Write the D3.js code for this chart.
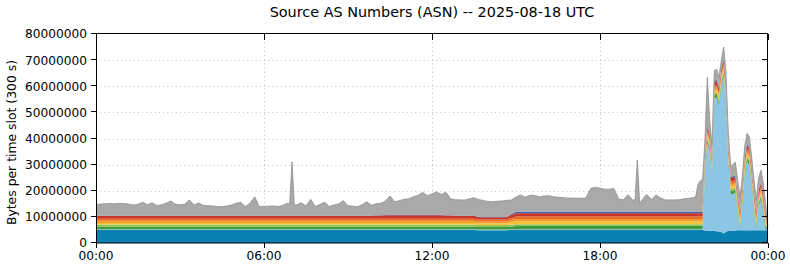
<!DOCTYPE html>
<html>
<head>
<meta charset="utf-8">
<script src="https://cdn.jsdelivr.net/npm/d3@7/dist/d3.min.js"></script>
<style>
  body { margin: 0; background: #fff; }
  svg { display: block; font-family: "DejaVu Sans", sans-serif; }
</style>
</head>
<body>
<svg id="chart" width="790" height="267"></svg>
<script>
// time slots, minutes after 00:00 UTC (MB per slot)
const slots = [
  0,10,20,30,40,50,60,70,80,90,
  100,110,120,130,140,150,160,170,180,190,
  200,210,220,230,240,250,260,270,280,290,
  300,310,320,330,340,350,360,370,380,390,
  400,410,415,420,425,430,440,450,460,470,
  480,490,500,510,520,530,540,550,560,570,
  580,590,600,610,620,630,640,650,660,670,
  680,690,700,710,720,730,740,750,760,770,
  780,790,800,810,820,830,840,850,860,870,
  880,890,900,910,920,930,940,950,960,970,
  980,990,1000,1010,1020,1030,1040,1050,1060,1070,
  1080,1090,1100,1110,1120,1130,1140,1150,1155,1160,
  1165,1170,1180,1190,1200,1210,1220,1230,1240,1250,
  1260,1265,1270,1275,1280,1285,1290,1295,1300,1305,
  1310,1315,1320,1325,1330,1335,1340,1345,1350,1355,
  1360,1365,1370,1375,1380,1385,1390,1395,1400,1405,
  1410,1415,1420,1425,1430,1435,1440
];

// stacked from the bottom up, millions of bytes
const asDarkBlue = [
  5.0,5.0,5.0,5.0,5.0,5.0,5.0,5.0,5.0,5.0,
  5.0,5.0,5.0,5.0,5.0,5.0,5.0,5.0,5.0,5.0,
  5.0,5.0,5.0,5.0,5.0,5.0,5.0,5.0,5.0,5.0,
  5.0,5.0,5.0,5.0,5.0,5.0,5.0,5.0,5.0,5.0,
  5.0,5.0,5.0,5.0,5.0,5.0,5.0,5.0,5.0,5.0,
  5.0,5.0,5.0,5.0,5.0,5.0,5.0,5.0,5.0,5.0,
  5.0,5.0,5.0,5.0,5.0,5.0,5.0,5.0,5.0,5.0,
  5.0,5.0,5.0,5.0,5.0,5.0,5.0,5.0,5.0,5.0,
  5.0,5.0,5.0,5.0,4.9,4.9,4.9,4.9,4.9,4.9,
  4.9,5.0,5.0,5.0,5.0,5.0,5.0,5.0,5.0,5.0,
  5.0,5.0,5.0,5.0,5.0,5.0,5.0,5.0,5.0,5.0,
  5.0,5.0,5.0,5.0,5.0,5.0,5.0,5.0,5.0,5.0,
  5.0,5.0,5.0,5.0,5.0,5.0,5.0,5.0,5.0,5.0,
  5.0,5.0,5.0,5.0,5.0,5.0,5.0,5.0,5.0,4.8,
  4.8,4.7,4.7,4.6,4.5,4.4,4.2,3.6,4.3,4.7,
  4.8,4.8,4.8,4.9,4.9,4.9,4.9,4.9,4.9,4.9,
  4.9,4.9,4.9,4.9,4.9,4.9,5.0
];
const asLightBlue = [
  0.3,0.3,0.3,0.3,0.3,0.3,0.3,0.3,0.3,0.3,
  0.3,0.3,0.3,0.3,0.3,0.3,0.3,0.3,0.3,0.3,
  0.3,0.3,0.3,0.3,0.3,0.3,0.3,0.3,0.3,0.3,
  0.3,0.3,0.3,0.3,0.3,0.3,0.3,0.3,0.3,0.3,
  0.3,0.3,0.3,0.3,0.3,0.3,0.3,0.3,0.3,0.3,
  0.3,0.3,0.3,0.3,0.3,0.3,0.3,0.3,0.3,0.3,
  0.3,0.3,0.3,0.3,0.3,0.3,0.3,0.3,0.3,0.3,
  0.3,0.3,0.3,0.3,0.3,0.3,0.3,0.3,0.3,0.3,
  0.3,0.3,0.3,0.3,0.3,0.3,0.3,0.3,0.3,0.3,
  0.3,0.3,0.3,0.3,0.3,0.3,0.3,0.3,0.3,0.3,
  0.3,0.3,0.3,0.3,0.3,0.3,0.3,0.3,0.3,0.3,
  0.3,0.3,0.3,0.3,0.3,0.3,0.3,0.3,0.3,0.3,
  0.3,0.3,0.3,0.3,0.3,0.3,0.3,0.3,0.3,0.3,
  0.3,0.3,0.3,0.3,0.3,0.3,0.3,0.3,0.3,22.0,
  33.5,30.6,21.1,50.7,51.3,48.4,56.1,60.2,50.0,26.1,
  14.0,14.0,14.5,7.4,0.6,9.3,21.4,26.4,25.1,17.4,
  7.9,0.4,8.9,11.8,6.8,0.4,0.3
];
const asGreen = [
  0.9,0.9,0.9,0.9,0.9,0.9,0.9,0.9,0.9,0.9,
  0.9,0.9,0.9,0.9,0.9,0.9,0.9,0.9,0.9,0.9,
  0.9,0.9,0.9,0.9,0.9,0.9,0.9,0.9,0.9,0.9,
  0.9,0.9,0.9,0.9,0.9,0.9,0.9,0.9,0.9,0.9,
  0.9,0.9,0.9,0.9,0.9,0.9,0.9,0.9,0.9,0.9,
  0.9,0.9,0.9,0.9,0.9,0.9,0.9,0.9,0.9,0.9,
  0.9,0.9,0.9,0.9,0.9,0.9,0.9,0.9,0.9,0.9,
  0.9,0.9,0.9,0.9,0.9,0.9,0.9,0.9,0.9,0.9,
  0.9,0.9,0.9,0.9,0.9,0.9,0.9,0.9,0.9,0.9,
  0.9,1.0,1.2,1.2,1.2,1.2,1.2,1.2,1.2,1.2,
  1.2,1.2,1.2,1.2,1.2,1.2,1.2,1.2,1.2,1.2,
  1.2,1.2,1.2,1.2,1.2,1.2,1.2,1.2,1.2,1.2,
  1.2,1.2,1.2,1.2,1.2,1.2,1.2,1.2,1.2,1.2,
  1.2,1.2,1.2,1.2,1.2,1.2,1.2,1.2,1.2,1.2,
  1.2,1.2,1.2,1.2,1.2,1.2,1.2,1.2,1.2,1.2,
  1.2,1.2,1.2,1.2,1.2,1.2,1.2,1.2,1.2,1.2,
  1.2,1.2,1.2,1.2,1.2,1.2,0.1
];
const asLightGreen = [
  0.9,0.9,0.9,0.9,0.9,0.9,0.9,0.9,0.9,0.9,
  0.9,0.9,0.9,0.9,0.9,0.9,0.9,0.9,0.9,0.9,
  0.9,0.9,0.9,0.9,0.9,0.9,0.9,0.9,0.9,0.9,
  0.9,0.9,0.9,0.9,0.9,0.9,0.9,0.9,0.9,0.9,
  0.9,0.9,0.9,0.9,0.9,0.9,0.9,0.9,0.9,0.9,
  0.9,0.9,0.9,0.9,0.9,0.9,0.9,0.9,0.9,0.9,
  0.9,0.9,0.9,0.9,0.9,0.9,0.9,0.9,0.9,0.9,
  0.9,0.9,0.9,0.9,0.9,0.9,0.9,0.9,0.9,0.9,
  0.9,0.9,0.9,0.9,0.8,0.8,0.8,0.8,0.8,0.8,
  0.8,0.8,0.7,0.7,0.7,0.7,0.7,0.7,0.7,0.7,
  0.7,0.7,0.7,0.7,0.7,0.7,0.7,0.7,0.7,0.7,
  0.7,0.7,0.7,0.7,0.7,0.7,0.7,0.7,0.7,0.7,
  0.7,0.7,0.7,0.7,0.7,0.7,0.7,0.7,0.7,0.7,
  0.7,0.7,0.7,0.7,0.7,0.7,0.7,0.7,0.7,0.7,
  0.7,0.7,0.7,0.7,0.7,0.7,0.7,0.7,0.7,0.7,
  0.7,0.7,0.7,0.7,0.7,0.7,0.7,0.7,0.7,0.7,
  0.7,0.7,0.7,0.7,0.7,0.7,0.1
];
const asYellow = [
  0.6,0.6,0.6,0.6,0.6,0.6,0.6,0.6,0.6,0.6,
  0.6,0.6,0.6,0.6,0.6,0.6,0.6,0.6,0.6,0.6,
  0.6,0.6,0.6,0.6,0.6,0.6,0.6,0.6,0.6,0.6,
  0.6,0.6,0.6,0.6,0.6,0.6,0.6,0.6,0.6,0.6,
  0.6,0.6,0.6,0.6,0.6,0.6,0.6,0.6,0.6,0.6,
  0.6,0.6,0.6,0.6,0.6,0.6,0.6,0.6,0.6,0.6,
  0.6,0.6,0.6,0.6,0.6,0.6,0.6,0.6,0.6,0.6,
  0.6,0.6,0.6,0.6,0.6,0.6,0.6,0.6,0.6,0.6,
  0.6,0.6,0.6,0.6,0.6,0.6,0.6,0.6,0.6,0.6,
  0.6,0.8,1.0,1.0,1.0,1.0,1.0,1.0,1.0,1.0,
  1.0,1.0,1.0,1.0,1.0,1.0,1.0,1.0,1.0,1.0,
  1.0,1.0,1.0,1.0,1.0,1.0,1.0,1.0,1.0,1.0,
  1.0,1.0,1.0,1.0,1.0,1.0,1.0,1.0,1.0,1.0,
  1.0,1.0,1.0,1.0,1.0,1.0,1.0,1.0,1.0,1.0,
  1.0,1.0,1.0,1.0,1.0,1.0,1.0,1.0,1.0,1.0,
  1.0,1.0,1.0,1.0,1.0,1.0,1.0,1.0,1.0,1.0,
  1.0,1.0,1.0,1.0,1.0,1.0,0.1
];
const asOrange = [
  0.8,0.8,0.8,0.8,0.8,0.8,0.8,0.8,0.8,0.8,
  0.8,0.8,0.8,0.8,0.8,0.8,0.8,0.8,0.8,0.8,
  0.8,0.8,0.8,0.8,0.8,0.8,0.8,0.8,0.8,0.8,
  0.8,0.8,0.8,0.8,0.8,0.8,0.8,0.8,0.8,0.8,
  0.8,0.8,0.8,0.8,0.8,0.8,0.8,0.8,0.8,0.8,
  0.8,0.8,0.8,0.8,0.8,0.8,0.8,0.8,0.8,0.8,
  0.8,0.8,0.8,0.8,0.8,0.8,0.8,0.8,0.8,0.8,
  0.8,0.8,0.8,0.8,0.8,0.8,0.8,0.8,0.8,0.8,
  0.8,0.8,0.8,0.8,0.7,0.7,0.7,0.7,0.7,0.7,
  0.7,0.9,1.0,1.0,1.0,1.0,1.0,1.0,1.0,1.0,
  1.0,1.0,1.0,1.0,1.0,1.0,1.0,1.0,1.0,1.0,
  1.0,1.0,1.0,1.0,1.0,1.0,1.0,1.0,1.0,1.0,
  1.0,1.0,1.0,1.0,1.0,1.0,1.0,1.0,1.0,1.0,
  1.0,1.0,1.0,1.0,1.0,1.0,1.0,1.0,1.0,1.0,
  1.0,1.0,1.0,1.0,1.0,1.0,1.0,1.0,1.0,1.0,
  1.0,1.0,1.0,1.0,1.0,1.0,1.0,1.0,1.0,1.0,
  1.0,1.0,1.0,1.0,1.0,1.0,0.1
];
const asDarkOrange = [
  0.8,0.8,0.8,0.8,0.8,0.8,0.8,0.8,0.8,0.8,
  0.8,0.8,0.8,0.8,0.8,0.8,0.8,0.8,0.8,0.8,
  0.8,0.8,0.8,0.8,0.8,0.8,0.8,0.8,0.8,0.8,
  0.8,0.8,0.8,0.8,0.8,0.8,0.8,0.8,0.8,0.8,
  0.8,0.8,0.8,0.8,0.8,0.8,0.8,0.8,0.8,0.8,
  0.8,0.8,0.8,0.8,0.8,0.8,0.8,0.8,0.8,0.8,
  0.8,0.8,0.8,0.8,0.8,0.8,0.8,0.8,0.8,0.8,
  0.8,0.8,0.8,0.8,0.8,0.8,0.8,0.8,0.8,0.8,
  0.8,0.8,0.8,0.8,0.8,0.8,0.8,0.8,0.8,0.8,
  0.8,0.8,0.9,0.9,0.9,0.9,0.9,0.9,0.9,0.9,
  0.9,0.9,0.9,0.9,0.9,0.9,0.9,0.9,0.9,0.9,
  0.9,0.9,0.9,0.9,0.9,0.9,0.9,0.9,0.9,0.9,
  0.9,0.9,0.9,0.9,0.9,0.9,0.9,0.9,0.9,0.9,
  0.9,0.9,0.9,0.9,0.9,0.9,0.9,0.9,0.9,0.9,
  0.9,0.9,0.9,0.9,0.9,0.9,0.9,0.9,0.9,0.9,
  0.9,0.9,0.9,0.9,0.9,0.9,0.9,0.9,0.9,0.9,
  0.9,0.9,0.9,0.9,0.9,0.9,0.1
];
const asRed = [
  1.1,1.1,1.1,1.1,1.1,1.1,1.1,1.1,1.1,1.1,
  1.1,1.1,1.1,1.1,1.1,1.1,1.1,1.1,1.1,1.1,
  1.1,1.1,1.1,1.1,1.1,1.1,1.1,1.1,1.1,1.1,
  1.1,1.1,1.1,1.1,1.1,1.1,1.1,1.1,1.1,1.1,
  1.1,1.1,1.1,1.1,1.1,1.1,1.1,1.1,1.1,1.1,
  1.1,1.1,1.1,1.1,1.1,1.1,1.1,1.1,1.1,1.1,
  1.1,1.1,1.2,1.2,1.3,1.3,1.3,1.3,1.3,1.3,
  1.3,1.3,1.3,1.3,1.3,1.3,1.3,1.2,1.2,1.1,
  1.1,1.1,1.1,1.1,0.9,0.9,0.9,0.9,0.9,0.9,
  0.9,1.2,1.3,1.3,1.3,1.3,1.3,1.3,1.3,1.3,
  1.3,1.3,1.3,1.3,1.3,1.3,1.3,1.3,1.3,1.3,
  1.3,1.3,1.3,1.3,1.3,1.3,1.3,1.3,1.3,1.3,
  1.3,1.3,1.3,1.3,1.3,1.3,1.3,1.3,1.3,1.3,
  1.3,1.3,1.3,1.3,1.3,1.3,1.3,1.3,1.3,1.3,
  1.3,1.3,1.3,1.3,1.3,1.3,1.3,1.3,1.3,1.3,
  1.3,1.3,1.3,1.3,1.3,1.3,1.3,1.3,1.3,1.3,
  1.3,1.3,1.3,1.3,1.3,1.3,0.1
];
const asBlue = [
  0.1,0.1,0.1,0.1,0.1,0.1,0.1,0.1,0.1,0.1,
  0.1,0.1,0.1,0.1,0.1,0.1,0.1,0.1,0.1,0.1,
  0.1,0.1,0.1,0.1,0.1,0.1,0.1,0.1,0.1,0.1,
  0.1,0.1,0.1,0.1,0.1,0.1,0.1,0.1,0.1,0.1,
  0.1,0.1,0.1,0.1,0.1,0.1,0.1,0.1,0.1,0.1,
  0.1,0.1,0.1,0.1,0.1,0.1,0.1,0.1,0.1,0.1,
  0.1,0.1,0.1,0.1,0.1,0.1,0.1,0.1,0.1,0.1,
  0.1,0.1,0.1,0.1,0.1,0.1,0.1,0.1,0.1,0.1,
  0.1,0.1,0.1,0.1,0.1,0.1,0.1,0.1,0.1,0.1,
  0.1,0.3,0.6,0.6,0.6,0.6,0.6,0.6,0.6,0.6,
  0.6,0.6,0.6,0.6,0.6,0.6,0.6,0.6,0.6,0.6,
  0.6,0.6,0.6,0.6,0.6,0.6,0.6,0.6,0.6,0.6,
  0.6,0.6,0.6,0.6,0.6,0.6,0.6,0.6,0.6,0.6,
  0.6,0.6,0.6,0.6,0.6,0.6,0.6,0.6,0.6,0.6,
  0.6,0.6,0.6,0.6,0.6,0.6,0.6,0.6,0.6,0.6,
  0.6,0.6,0.6,0.6,0.6,0.6,0.6,0.6,0.6,0.6,
  0.6,0.6,0.6,0.6,0.6,0.6,0.1
];
const others = [
  4.3,4.4,4.5,4.6,4.5,4.7,4.6,4.4,4.0,4.3,
  5.1,4.1,4.9,3.9,4.1,4.7,5.6,4.4,4.1,4.3,
  6.0,4.0,4.8,3.9,3.8,3.7,3.5,3.4,3.7,4.0,
  4.7,5.1,3.5,4.7,7.2,3.5,3.5,3.6,3.7,3.4,
  3.9,4.7,4.5,20.6,4.0,4.1,4.9,3.7,6.2,3.5,
  4.3,5.1,3.5,4.0,4.5,5.7,3.8,3.6,3.4,4.1,
  5.3,4.0,4.4,4.6,5.3,7.3,5.1,5.5,6.0,6.2,
  7.0,7.5,8.7,7.4,8.1,8.9,7.9,8.8,6.3,6.1,
  6.0,6.0,6.4,6.8,6.6,6.3,5.9,5.8,6.0,6.1,
  6.3,5.4,5.6,6.4,5.5,6.3,6.2,5.7,6.0,6.1,
  5.7,5.5,5.4,5.2,5.2,5.1,5.1,5.2,8.9,9.3,
  9.0,8.6,8.6,8.9,4.8,4.6,6.5,4.5,4.4,19.8,
  3.2,4.5,6.6,4.7,6.4,5.2,4.5,4.5,4.5,4.6,
  4.9,5.0,5.1,5.2,5.4,5.6,10.5,11.8,12.5,6.5,
  18.4,5.0,5.0,4.0,4.0,4.0,3.0,4.5,4.0,4.5,
  4.0,4.5,5.0,5.0,5.5,4.5,4.0,4.0,4.0,4.0,
  4.5,4.5,4.5,4.5,4.5,3.0,0.2
];

const series = { asDarkBlue, asLightBlue, asGreen, asLightGreen, asYellow,
                 asOrange, asDarkOrange, asRed, asBlue, others };
const keys = Object.keys(series);
const colors = ["#0a80b3", "#8dc5e5", "#3f9b3c", "#8fc15a", "#f3c535",
                "#f59d2a", "#eb6a22", "#c8352a", "#3c5daa", "#a9a9a9"];

const yTicks = [0, 10000000, 20000000, 30000000, 40000000, 50000000, 60000000, 70000000, 80000000];
const xTicks = [0, 360, 720, 1080, 1440];
const xTickLabels = ["00:00", "06:00", "12:00", "18:00", "00:00"];

const plotL = 96, plotR = 768, plotT = 34, plotB = 243;

const svg = d3.select("#chart");
const x = d3.scaleLinear().domain([0, 1440]).range([plotL, plotR]);
const y = d3.scaleLinear().domain([0, 80000000]).range([plotB, plotT]);

const rows = slots.map((t, i) => {
  const r = { t };
  keys.forEach(k => { r[k] = series[k][i] * 1e6; });
  return r;
});
const stacked = d3.stack().keys(keys)(rows);

// grid (below the areas)
const grid = svg.append("g").attr("stroke", "#b0b0b0").attr("stroke-width", 0.8)
  .attr("stroke-dasharray", "1,3.2");
grid.selectAll("line.h").data(yTicks.slice(1, -1)).join("line")
  .attr("x1", plotL).attr("x2", plotR)
  .attr("y1", d => Math.round(y(d)) + 0.5).attr("y2", d => Math.round(y(d)) + 0.5);
grid.selectAll("line.v").data(xTicks.slice(1, -1)).join("line")
  .attr("y1", plotT).attr("y2", plotB)
  .attr("x1", d => Math.round(x(d)) + 0.5).attr("x2", d => Math.round(x(d)) + 0.5);

const area = d3.area()
  .x(d => x(d.data.t))
  .y0(d => y(d[0]))
  .y1(d => y(d[1]));

svg.append("g").selectAll("path").data(stacked).join("path")
  .attr("fill", (d, i) => colors[i])
  .attr("d", area);

// darker rim on the top of the stack
svg.append("path")
  .datum(stacked[stacked.length - 1])
  .attr("fill", "none").attr("stroke", "#8e8e8e").attr("stroke-width", 0.8)
  .attr("d", d3.line().x(d => x(d.data.t)).y(d => y(d[1])));

// frame
svg.append("rect").attr("x", plotL + 0.5).attr("y", plotT - 0.5)
  .attr("width", plotR - plotL - 1).attr("height", plotB - plotT + 0.5)
  .attr("fill", "none").attr("stroke", "#000").attr("stroke-width", 1);

// ticks
const tk = svg.append("g").attr("stroke", "#000").attr("stroke-width", 1);
yTicks.forEach(v => {
  const yy = Math.round(y(v)) - 0.5;
  tk.append("line").attr("x1", plotL - 5).attr("x2", plotL).attr("y1", yy).attr("y2", yy);
  tk.append("line").attr("x1", plotR - 6).attr("x2", plotR).attr("y1", yy).attr("y2", yy);
});
xTicks.forEach(v => {
  const xx = Math.round(x(v)) + 0.5;
  tk.append("line").attr("x1", xx).attr("x2", xx).attr("y1", plotB).attr("y2", plotB + 5);
  tk.append("line").attr("x1", xx).attr("x2", xx).attr("y1", plotT).attr("y2", plotT + 6);
});

// labels
svg.append("g").selectAll("text").data(yTicks).join("text")
  .attr("x", plotL - 9).attr("y", d => y(d)).attr("dy", "0.36em")
  .attr("text-anchor", "end").attr("font-size", 12.2).attr("fill", "#000")
  .text(d3.format("d"));

svg.append("g").selectAll("text").data(xTicks).join("text")
  .attr("x", d => x(d)).attr("y", plotB + 17)
  .attr("text-anchor", "middle").attr("font-size", 12.2).attr("fill", "#000")
  .text((d, i) => xTickLabels[i]);

svg.append("text")
  .attr("transform", `translate(16,${(plotT + plotB) / 2 + 4}) rotate(-90)`)
  .attr("text-anchor", "middle").attr("font-size", 12.4).attr("fill", "#000")
  .text("Bytes per time slot (300 s)");

svg.append("text")
  .attr("x", (plotL + plotR) / 2).attr("y", 17)
  .attr("text-anchor", "middle").attr("font-size", 14.4).attr("fill", "#000")
  .text("Source AS Numbers (ASN) -- 2025-08-18 UTC");
</script>
</body>
</html>
